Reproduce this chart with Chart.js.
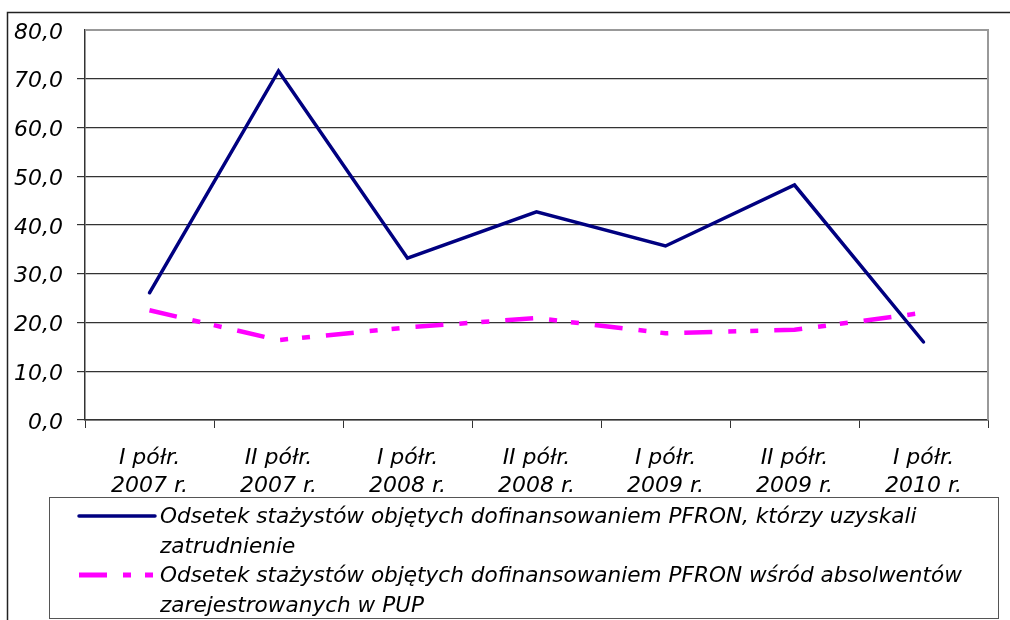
<!DOCTYPE html>
<html>
<head>
<meta charset="utf-8">
<script src="https://cdn.jsdelivr.net/npm/chart.js@4/dist/chart.umd.min.js"></script>
<style>
  html, body { margin:0; padding:0; background:#fff; }
  #wrap { width:1010px; height:620px; position:relative; }
</style>
</head>
<body>
<div id="wrap"><canvas id="chart"></canvas></div>
<script>
const periods = [["I półr.","2007 r."],["II półr.","2007 r."],["I półr.","2008 r."],["II półr.","2008 r."],["I półr.","2009 r."],["II półr.","2009 r."],["I półr.","2010 r."]];
const employed = [26.1, 71.6, 33.2, 42.7, 35.7, 48.2, 16.0];
const graduates = [22.5, 16.4, 19.0, 20.9, 17.8, 18.5, 22.0];
const legendEmployed = ["Odsetek stażystów objętych dofinansowaniem PFRON, którzy uzyskali", "zatrudnienie"];
const legendGraduates = ["Odsetek stażystów objętych dofinansowaniem PFRON wśród absolwentów", "zarejestrowanych w PUP"];

const FONT = "'DejaVu Sans', Verdana, sans-serif";
const NAVY = "#000080", PINK = "#ff00ff";
const DASH = [28,16,8,14,8,16];

function fmt(v){ return v.toFixed(1).replace(".", ","); }

// outer frame + plot frame + legend box drawn on the canvas
const frame = {
  id:"frame",
  beforeDraw(chart){
    const c = chart.ctx;
    c.save();
    c.strokeStyle = "#222"; c.lineWidth = 1.5;
    c.beginPath(); c.moveTo(7.5,620); c.lineTo(7.5,12.5); c.lineTo(1010,12.5); c.stroke();
    c.restore();
  },
  afterDatasetsDraw(chart){
    const a = chart.chartArea, c = chart.ctx;
    c.save();
    c.strokeStyle = "#999"; c.lineWidth = 2;
    c.beginPath(); c.moveTo(a.left, a.top); c.lineTo(a.right, a.top); c.lineTo(a.right, a.bottom); c.stroke();
    c.restore();
  },
  afterDraw(chart){
    const c = chart.ctx;
    c.save();
    c.strokeStyle = "#555"; c.lineWidth = 1;
    c.strokeRect(49.5, 497.5, 949, 121);
    c.font = "italic 21.6px " + FONT;
    c.fillStyle = "#000"; c.textBaseline = "middle";
    const items = [
      {lines:legendEmployed, color:NAVY, width:3.5, dash:[], y:516},
      {lines:legendGraduates, color:PINK, width:5, dash:DASH, y:575}
    ];
    items.forEach(it => {
      c.strokeStyle = it.color; c.lineWidth = it.width; c.setLineDash(it.dash);
      c.lineCap = it.dash.length ? "butt" : "round";
      c.beginPath(); c.moveTo(79, it.y); c.lineTo(155, it.y); c.stroke();
      c.setLineDash([]);
      it.lines.forEach((t,i) => c.fillText(t, 160, it.y + 1 + i*30));
    });
    c.restore();
  }
};

new Chart(document.querySelector("#chart"), {
  type:"line",
  data:{
    labels: periods,
    datasets:[
      { label:legendEmployed.join(" "), data:employed, borderColor:NAVY, borderWidth:3.5, pointRadius:0, tension:0, borderCapStyle:"round", borderJoinStyle:"miter" },
      { label:legendGraduates.join(" "), data:graduates, borderColor:PINK, borderWidth:4.5, pointRadius:0, tension:0, borderDash:DASH }
    ]
  },
  options:{
    responsive:true,
    maintainAspectRatio:false,
    animation:false,
    layout:{ padding:{ left:0, top:30, right:22, bottom:122 } },
    plugins:{ legend:{ display:false }, tooltip:{ enabled:false } },
    scales:{
      x:{
        offset:true,
        afterFit(s){ s.height = 78; },
        grid:{ offset:true, drawOnChartArea:false, color:"#333", tickLength:8 },
        border:{ color:"#333", width:1.5 },
        ticks:{ color:"#000", font:{ family:FONT, size:22, style:"italic", lineHeight:1.28 }, padding:16, maxRotation:0, autoSkip:false }
      },
      y:{
        min:0, max:80,
        afterFit(s){ s.width = 85; },
        grid:{ color:ctx => ctx.tick && ctx.tick.value === 80 ? "rgba(0,0,0,0)" : "#333", lineWidth:1.2, tickLength:8 },
        border:{ color:"#333", width:1.5 },
        ticks:{ stepSize:10, color:"#000", padding:14, labelOffset:3, font:{ family:FONT, size:22, style:"italic" }, callback:v => fmt(v) }
      }
    }
  },
  plugins:[frame]
});
</script>
</body>
</html>
